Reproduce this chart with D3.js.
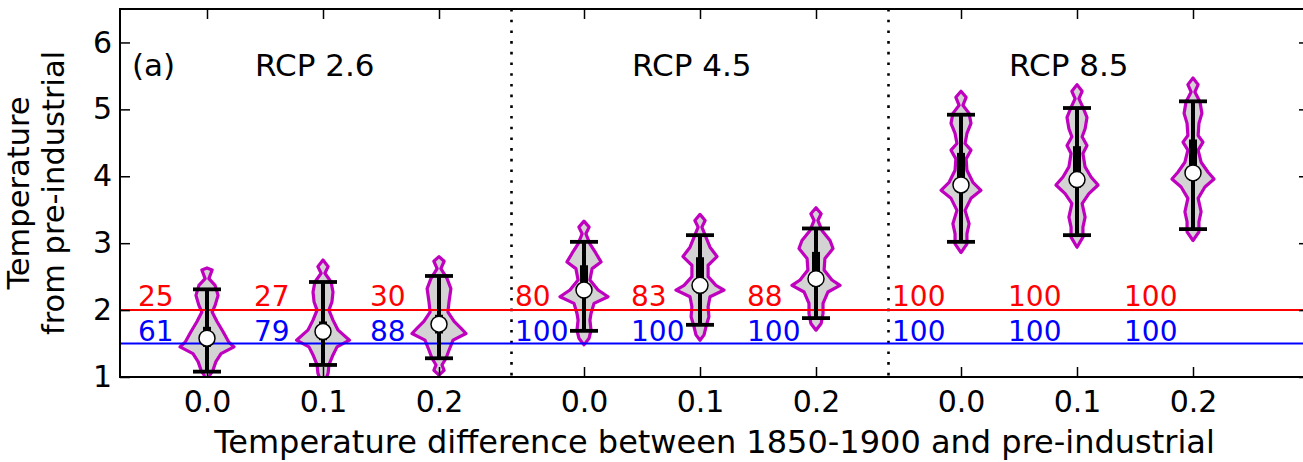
<!DOCTYPE html>
<html><head><meta charset="utf-8">
<script src="https://cdn.jsdelivr.net/npm/d3@7"></script>
<style>body{margin:0;background:#fff}svg{display:block;font-family:"DejaVu Sans",sans-serif}</style>
</head><body><svg id="c" width="1303" height="462"></svg>
<script>
// ---- data ----
const scenarios = ["RCP 2.6", "RCP 4.5", "RCP 8.5"];
const offsets = ["0.0", "0.1", "0.2"];
const yTicks = [1, 2, 3, 4, 5, 6];
const medians = [1.58, 1.68, 1.79, 2.30, 2.37, 2.47, 3.87, 3.95, 4.05];
const whiskerLow = [1.08, 1.18, 1.28, 1.69, 1.78, 1.88, 3.02, 3.12, 3.21];
const whiskerHigh = [2.31, 2.42, 2.51, 3.02, 3.12, 3.22, 4.92, 5.02, 5.12];
const q1 = [1.45, 1.55, 1.65, 2.18, 2.25, 2.35, 3.75, 3.83, 3.93];
const q3 = [1.75, 1.83, 1.93, 2.67, 2.79, 2.87, 4.35, 4.45, 4.55];
const pctBelow2 = [25, 27, 30, 80, 83, 88, 100, 100, 100];
const pctBelow15 = [61, 79, 88, 100, 100, 100, 100, 100, 100];
const thresholds = [2.0, 1.5];
// violin profiles: [temperature, relative density]
const violins = [
 [[2.63,0],[2.60,0.19],[2.47,0.07],[2.37,0.30],[2.22,0.41],[2.07,0.30],[1.97,0.19],[1.83,0.37],[1.68,0.59],[1.52,0.81],[1.45,1.0],[1.35,0.52],[1.23,0.33],[1.10,0.22],[1.03,0.11],[0.95,0.05]],
 [[2.75,0],[2.65,0.19],[2.55,0.07],[2.42,0.30],[2.27,0.37],[2.12,0.33],[2.00,0.22],[1.85,0.37],[1.70,0.56],[1.55,0.98],[1.45,0.52],[1.33,0.37],[1.18,0.22],[1.06,0.19],[0.95,0.10]],
 [[2.80,0],[2.73,0.19],[2.62,0.07],[2.47,0.30],[2.32,0.44],[2.12,0.37],[1.97,0.33],[1.83,0.56],[1.73,0.81],[1.65,1.0],[1.55,0.52],[1.40,0.37],[1.28,0.26],[1.18,0.11],[1.10,0.19],[1.03,0]],
 [[3.33,0],[3.24,0.19],[3.14,0.07],[2.99,0.22],[2.85,0.44],[2.72,0.63],[2.62,0.30],[2.45,0.22],[2.30,0.52],[2.20,0.89],[2.10,0.37],[1.95,0.26],[1.85,0.22],[1.70,0.26],[1.58,0.19],[1.48,0]],
 [[3.43,0],[3.34,0.19],[3.24,0.07],[3.09,0.22],[2.94,0.37],[2.80,0.63],[2.67,0.30],[2.50,0.30],[2.37,0.59],[2.30,0.89],[2.20,0.37],[2.05,0.30],[1.90,0.33],[1.75,0.22],[1.63,0.15],[1.55,0]],
 [[3.53,0],[3.44,0.19],[3.34,0.07],[3.19,0.22],[3.04,0.52],[2.92,0.63],[2.77,0.33],[2.60,0.30],[2.45,0.59],[2.37,0.89],[2.27,0.44],[2.10,0.26],[1.95,0.26],[1.80,0.19],[1.70,0]],
 [[5.27,0],[5.18,0.19],[5.06,0.07],[4.94,0.30],[4.79,0.37],[4.64,0.22],[4.49,0.15],[4.39,0.37],[4.26,0.19],[4.09,0.22],[3.91,0.44],[3.79,0.74],[3.67,0.37],[3.49,0.15],[3.29,0.30],[3.14,0.22],[2.99,0.22],[2.86,0]],
 [[5.37,0],[5.27,0.19],[5.16,0.07],[5.03,0.22],[4.88,0.37],[4.71,0.30],[4.59,0.19],[4.46,0.37],[4.34,0.22],[4.14,0.30],[3.99,0.52],[3.87,0.78],[3.74,0.44],[3.59,0.19],[3.39,0.30],[3.24,0.22],[3.09,0.22],[2.94,0]],
 [[5.47,0],[5.37,0.19],[5.26,0.07],[5.11,0.26],[4.94,0.33],[4.79,0.22],[4.61,0.19],[4.51,0.37],[4.39,0.19],[4.21,0.30],[4.06,0.56],[3.96,0.78],[3.84,0.44],[3.67,0.19],[3.47,0.30],[3.32,0.22],[3.17,0.22],[3.04,0]]
];

// ---- layout ----
const L = 120, R = 1309, T = 9, B = 377;
const svg = d3.select("#c");
const slot = (g, i) => g * 3.25 + i;
const positions = [];
scenarios.forEach((s, g) => offsets.forEach((o, i) => positions.push({g, i, pos: slot(g, i), label: o})));
const x = d3.scaleLinear().domain([-0.75, 9.5]).range([L, R]);
const y = d3.scaleLinear().domain([1, 6.5]).range([B, T]);
const w = d3.scaleLinear().domain([0, 1]).range([0, 27]);

svg.append("defs").append("clipPath").attr("id", "clip")
  .append("rect").attr("x", L).attr("y", T).attr("width", R - L).attr("height", B - T);
const plot = svg.append("g").attr("clip-path", "url(#clip)");

// dotted separators
[2.625, 5.875].forEach(v => {
  plot.append("line").attr("x1", x(v)).attr("x2", x(v)).attr("y1", T).attr("y2", B)
    .attr("stroke", "#000").attr("stroke-width", 2.6).attr("stroke-dasharray", "2.6,8.1");
});

// violins
const area = d3.area().y(d => y(d[0])).curve(d3.curveLinear);
positions.forEach((p, k) => {
  const cx = x(p.pos);
  plot.append("path").datum(violins[k])
    .attr("d", area.x0(d => cx - w(d[1])).x1(d => cx + w(d[1])))
    .attr("fill", "#d3d3d3").attr("stroke", "#bf00bf").attr("stroke-width", 3.2).attr("stroke-linejoin", "round");
});

// threshold lines
const thrColors = ["#ff0000", "#0000ff"];
thresholds.forEach((t, j) => {
  plot.append("line").attr("x1", L).attr("x2", R).attr("y1", y(t)).attr("y2", y(t))
    .attr("stroke", thrColors[j]).attr("stroke-width", 2);
});

// whiskers, boxes, medians
positions.forEach((p, k) => {
  const cx = x(p.pos);
  const g = plot.append("g");
  g.append("line").attr("x1", cx).attr("x2", cx).attr("y1", y(whiskerLow[k])).attr("y2", y(whiskerHigh[k]))
    .attr("stroke", "#000").attr("stroke-width", 4);
  [whiskerLow[k], whiskerHigh[k]].forEach(v => g.append("line")
    .attr("x1", cx - 14).attr("x2", cx + 14).attr("y1", y(v)).attr("y2", y(v))
    .attr("stroke", "#000").attr("stroke-width", 3.8));
  g.append("line").attr("x1", cx).attr("x2", cx).attr("y1", y(q1[k])).attr("y2", y(q3[k]))
    .attr("stroke", "#000").attr("stroke-width", 8);
  g.append("circle").attr("cx", cx).attr("cy", y(medians[k])).attr("r", 8)
    .attr("fill", "#fff").attr("stroke", "#000").attr("stroke-width", 1.5);
});

// percentage labels
positions.forEach((p, k) => {
  const tx = x(p.pos) - 69;
  svg.append("text").attr("x", tx).attr("y", y(2) - 4).attr("fill", "#ff0000")
    .attr("font-size", 28).text(pctBelow2[k]);
  svg.append("text").attr("x", tx).attr("y", y(1.5) - 3).attr("fill", "#0000ff")
    .attr("font-size", 28).text(pctBelow15[k]);
});

// scenario labels
scenarios.forEach((s, g) => {
  svg.append("text").attr("x", x(slot(g, 1)) - 68).attr("y", 76).attr("font-size", 31).text(s);
});
svg.append("text").attr("x", 132).attr("y", 76).attr("font-size", 31).text("(a)");

// axes
const xAxisB = d3.axisBottom(x).tickValues(positions.map(p => p.pos))
  .tickFormat((d, i) => positions[i].label).tickSize(-10).tickPadding(14);
const xAxisT = d3.axisTop(x).tickValues(positions.map(p => p.pos)).tickFormat("").tickSize(-10);
const yAxisL = d3.axisLeft(y).tickValues(yTicks).tickFormat(d3.format("d")).tickSize(-10).tickPadding(8);
const yAxisR = d3.axisRight(y).tickValues(yTicks).tickFormat("").tickSize(-10);
function style(sel) {
  sel.select(".domain").remove();
  sel.selectAll(".tick line").attr("stroke", "#000").attr("stroke-width", 1.5);
  sel.selectAll(".tick text").attr("fill", "#000").attr("font-size", 30).attr("font-family", "DejaVu Sans");
}
svg.append("g").attr("transform", `translate(0,${B})`).call(xAxisB).call(style);
svg.append("g").attr("transform", `translate(0,${T})`).call(xAxisT).call(style);
svg.append("g").attr("transform", `translate(${L},0)`).call(yAxisL).call(style);
svg.append("g").attr("transform", `translate(${R},0)`).call(yAxisR).call(style);
svg.append("rect").attr("x", L).attr("y", T).attr("width", R - L).attr("height", B - T)
  .attr("fill", "none").attr("stroke", "#000").attr("stroke-width", 2);

// axis labels
svg.append("text").attr("x", (L + R) / 2).attr("y", 453).attr("text-anchor", "middle")
  .attr("font-size", 32).text("Temperature difference between 1850-1900 and pre-industrial");
const yl = svg.append("text").attr("transform", `translate(0,${(T + B) / 2}) rotate(-90)`)
  .attr("text-anchor", "middle").attr("font-size", 30.5);
yl.append("tspan").attr("x", 0).attr("y", 29).text("Temperature");
yl.append("tspan").attr("x", 0).attr("y", 64).text("from pre-industrial");
</script></body></html>
